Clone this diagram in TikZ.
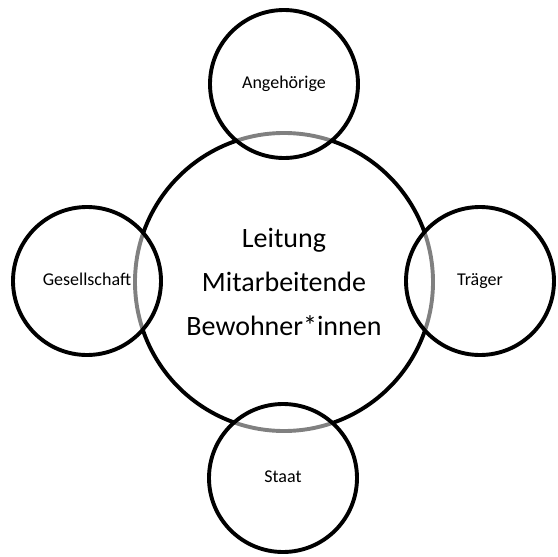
\documentclass[tikz,border=0pt]{standalone}
\usepackage{fontspec}
\setmainfont{Carlito}
\begin{document}
\begin{tikzpicture}[x=1pt,y=-1pt,
  ring/.style={circle, draw=black, line width=3.9pt, inner sep=0pt},
  core/.style={ring, minimum size=298pt, align=center,
    font=\fontsize{28}{44}\selectfont},
  satellite/.style={ring, minimum size=148pt, fill=white,
    fill opacity=0.5, draw opacity=1, text opacity=1,
    text height=13.5pt, text depth=4.5pt,
    font=\fontsize{18}{22}\selectfont}]
\useasboundingbox (0,0) rectangle (558,557);
% central circle with the three inner groups
\node[core] (zentrum) at (284,282) {Leitung\\Mitarbeitende\\Bewohner*innen};
% outer circles, half-transparent so the central ring shows through grey
\node[satellite] (angehoerige) at (284,84) {Angehörige};
\node[satellite] (gesellschaft) at (87,281) {Gesellschaft};
\node[satellite] (traeger) at (480,281) {Träger};
\node[satellite] (staat) at (283,478) {Staat};
\end{tikzpicture}
\end{document}
